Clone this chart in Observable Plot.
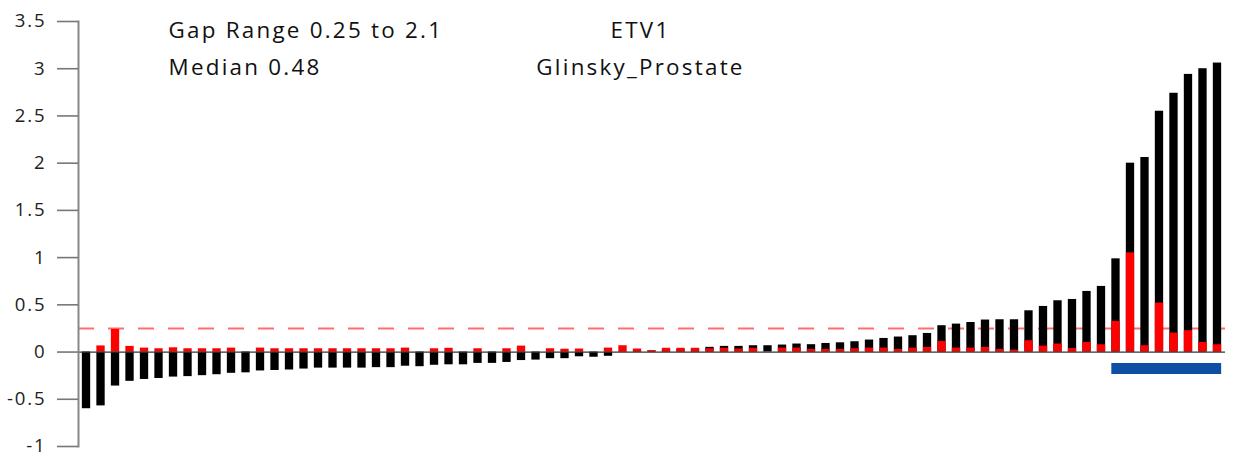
<!DOCTYPE html>
<html>
<head>
<meta charset="utf-8">
<script src="https://cdn.jsdelivr.net/npm/d3@7"></script>
<script src="https://cdn.jsdelivr.net/npm/@observablehq/plot@0.6"></script>
<style>
  html, body { margin: 0; padding: 0; background: #fff; }
  svg { display: block; }
  svg text { letter-spacing: 0.1em; }
</style>
</head>
<body>
<div id="chart"></div>
<script>
// Samples, ordered by ETV1 gap value
const samples = d3.range(1, 80);

// Gap value per sample (black bars)
const gapValues = [
  -0.60, -0.57, -0.36, -0.31, -0.29, -0.28, -0.265, -0.26, -0.25, -0.24,
  -0.225, -0.22, -0.20, -0.195, -0.19, -0.18, -0.17, -0.17, -0.17, -0.17,
  -0.165, -0.165, -0.15, -0.155, -0.14, -0.135, -0.135, -0.12, -0.12, -0.11,
  -0.09, -0.085, -0.07, -0.07, -0.05, -0.055, -0.045, 0.005, 0.01, 0.012,
  0.02, 0.025, 0.03, 0.05, 0.06, 0.06, 0.067, 0.067, 0.074, 0.085,
  0.078, 0.091, 0.098, 0.109, 0.127, 0.144, 0.159, 0.173, 0.197, 0.279,
  0.296, 0.313, 0.339, 0.342, 0.342, 0.437, 0.483, 0.543, 0.557, 0.642,
  0.695, 0.987, 2.0, 2.06, 2.55, 2.74, 2.94, 3.0, 3.06
];

// Lower-gap value per sample (red bars); 0 where none is drawn
const lowerValues = [
  0, 0.065, 0.24, 0.06, 0.042, 0.035, 0.045, 0.035, 0.035, 0.035,
  0.042, 0, 0.042, 0.035, 0.035, 0.035, 0.035, 0.035, 0.035, 0.035,
  0.035, 0.035, 0.042, 0, 0.035, 0.04, 0, 0.035, 0, 0.035,
  0.063, 0, 0.035, 0.03, 0.032, 0, 0.042, 0.067, 0.032, 0.014,
  0.04, 0.04, 0.04, 0.035, 0.04, 0.032, 0.04, 0, 0.042, 0.042,
  0.028, 0.028, 0.028, 0.035, 0.042, 0.042, 0.028, 0.042, 0.049, 0.112,
  0.042, 0.042, 0.049, 0.028, 0.021, 0.12, 0.063, 0.085, 0.038, 0.102,
  0.077, 0.324, 1.05, 0.067, 0.519, 0.201, 0.226, 0.102, 0.077
];

// Gap threshold and highlighted sample group
const threshold = [0.25];
const highlight = [{start: 72, end: 79, level: -0.175}];

const yTicks = [-1, -0.5, 0, 0.5, 1, 1.5, 2, 2.5, 3, 3.5];
const leftNote = "Gap Range 0.25 to 2.1\nMedian 0.48";
const rightNote = "ETV1\nGlinsky_Prostate";

const rows = samples.map((s, i) => ({sample: s, gap: gapValues[i], lower: lowerValues[i]}));

const font = "'Open Sans', sans-serif";

const chart = Plot.plot({
  width: 1246,
  height: 461,
  marginLeft: 78,
  marginRight: 21,
  marginTop: 21,
  marginBottom: 15,
  style: {fontFamily: font, background: "#fff"},
  x: {type: "band", domain: samples, paddingInner: 0.426, paddingOuter: 0.266, axis: null},
  y: {domain: [-1, 3.5], axis: null},
  marks: [
    Plot.ruleY(threshold, {stroke: "#ff6e6e", strokeWidth: 2, strokeDasharray: "16,14"}),
    Plot.barY(rows, {x: "sample", y: "gap", fill: "#000"}),
    Plot.barY(rows.filter(d => d.lower > 0), {x: "sample", y: "lower", fill: "#ff0000"}),
    Plot.ruleY([0], {stroke: "#333", strokeWidth: 1.2}),
    Plot.ruleY(highlight, {y: "level", x1: "start", x2: "end", stroke: "#0b50a2", strokeWidth: 11}),
    Plot.frame({anchor: "left", stroke: "#888", strokeWidth: 2}),
    Plot.axisY({
      ticks: yTicks,
      tickSize: 21,
      tickPadding: 11,
      tickFormat: d => String(d),
      stroke: "#777",
      strokeWidth: 1.6,
      fill: "#222",
      fontSize: 18.6
    }),
    Plot.text([leftNote], {
      frameAnchor: "top-left", textAnchor: "start", lineAnchor: "top",
      dx: 90, dy: -9.3, fontSize: 22.4, lineHeight: 1.634, fill: "#111"
    }),
    Plot.text([rightNote], {
      frameAnchor: "top-left", textAnchor: "middle", lineAnchor: "top",
      dx: 562, dy: -9.3, fontSize: 22.4, lineHeight: 1.634, fill: "#111"
    })
  ]
});

document.getElementById("chart").append(chart);
</script>
</body>
</html>
